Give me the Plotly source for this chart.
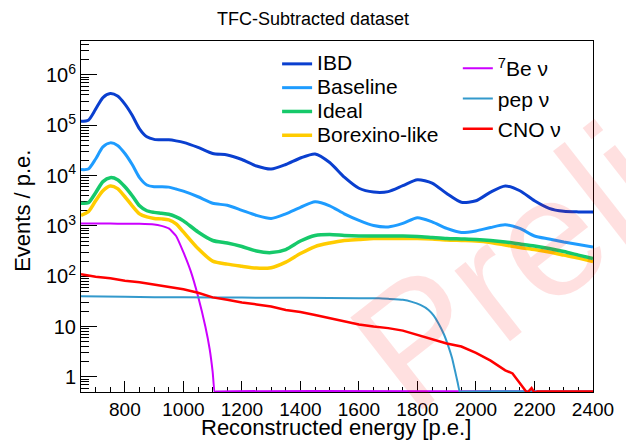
import plotly.graph_objects as go

# ---------------- data ----------------
energy = [650, 675, 700, 725, 750, 775, 800, 825, 850, 875, 900, 925, 950, 975, 1000,
          1050, 1100, 1150, 1200, 1250, 1300, 1350, 1400, 1450, 1500, 1550, 1600, 1650,
          1700, 1750, 1800, 1850, 1900, 1950, 2000, 2050, 2100, 2150, 2200, 2250, 2300,
          2350, 2400]

ibd = [1.20e5, 1.26e5, 2.09e5, 3.55e5, 4.27e5, 3.80e5, 2.63e5, 1.58e5, 8.5e4, 5.9e4,
       5.25e4, 5.13e4, 5.13e4, 4.9e4, 4.57e4,
       3.63e4, 2.75e4, 2.57e4, 2.09e4, 1.55e4, 1.35e4, 1.66e4, 2.24e4, 2.69e4, 1.82e4,
       9.3e3, 5.6e3, 4.7e3, 4.8e3, 6.3e3, 8.3e3, 7.1e3, 4.4e3, 2.95e3, 3.16e3, 4.7e3,
       6.2e3, 5.0e3, 3.16e3, 2.24e3, 1.95e3, 1.9e3, 1.9e3]

baseline = [1.32e4, 1.35e4, 2.14e4, 3.72e4, 4.47e4, 3.98e4, 2.75e4, 1.66e4, 9.1e3, 6.5e3,
            6.0e3, 6.0e3, 5.9e3, 5.4e3, 4.9e3,
            3.8e3, 2.82e3, 2.57e3, 2.04e3, 1.62e3, 1.41e3, 1.74e3, 2.34e3, 3.02e3, 2.51e3,
            1.74e3, 1.29e3, 1.02e3, 955, 1.12e3, 1.45e3, 1.2e3, 890, 740, 795, 930,
            1.05e3, 890, 630, 550, 480, 427, 380]

ideal = [2.82e3, 2.88e3, 4.57e3, 7.6e3, 9.1e3, 8.3e3, 6.0e3, 3.98e3, 2.51e3, 2.0e3,
         1.86e3, 1.78e3, 1.70e3, 1.51e3, 1.26e3,
         759, 513, 457, 389, 316, 295, 339, 501, 646, 676, 646, 631, 631, 631, 631,
         617, 589, 562, 550, 537, 513, 479, 437, 398, 355, 309, 263, 224]

borexino = [1.62e3, 1.91e3, 3.16e3, 5.0e3, 6.2e3, 5.5e3, 3.8e3, 2.51e3, 1.74e3, 1.51e3,
            1.41e3, 1.38e3, 1.32e3, 1.10e3, 759,
            355, 200, 174, 158, 145, 148, 191, 282, 389, 457, 513, 537, 562, 562, 562,
            562, 550, 525, 513, 501, 468, 417, 372, 339, 302, 263, 229, 195]

be7_energy = [650, 700, 750, 800, 850, 900, 925, 950, 975, 1000, 1025, 1050, 1075, 1090,
              1100, 1107, 1112, 2400]
be7 = [1.12e3, 1.12e3, 1.12e3, 1.10e3, 1.10e3, 1.07e3, 1.0e3, 890, 630, 300, 126, 40, 10,
       3.5, 1.26, 0.5, 0, 0]

pep_energy = [650, 800, 1000, 1200, 1400, 1600, 1668, 1700, 1750, 1781, 1810, 1838, 1855,
              1872, 1890, 1906, 1918, 1928, 1937, 1945, 1950, 2400]
pep = [39.8, 38.9, 38.0, 37.6, 37.2, 36.3, 36.3, 35.5, 33.9, 30.9, 26.9, 21.4, 16.6, 11.5,
       7.1, 4.0, 2.4, 1.35, 0.79, 0.5, 0, 0]

cno_energy = [650, 700, 750, 800, 850, 900, 950, 1000, 1050, 1100, 1150, 1200, 1250, 1300,
              1350, 1400, 1450, 1500, 1550, 1600, 1650, 1700, 1750, 1800, 1850, 1900, 1950,
              2000, 2050, 2100, 2125, 2150, 2175, 2190, 2200, 2210, 2400]
cno = [110, 98, 91, 81, 76, 68, 62, 55, 47, 38, 34, 30, 27.5, 25, 21.4, 19.5, 17, 14.8,
       12.9, 11, 10, 9.3, 8.3, 6.8, 5.6, 4.6, 4.0, 3.0, 2.1, 1.35, 1.17, 0.76, 0.48, 0.6,
       0.48, 0, 0]

x_ticks = [800, 1000, 1200, 1400, 1600, 1800, 2000, 2200, 2400]
y_ticks = [1, 10, 100, 1000, 1e4, 1e5, 1e6]
y_ticktext = ["1", "10", "10<sup>2</sup>", "10<sup>3</sup>", "10<sup>4</sup>",
              "10<sup>5</sup>", "10<sup>6</sup>"]

FLOOR = 0.51  # empty bins are drawn on the lower frame edge (log scale)


def floor(vals):
    return [v if v > 0 else FLOOR for v in vals]


FONT = "Liberation Sans, Arial, Helvetica, sans-serif"

fig = go.Figure()

main = [
    ("IBD", ibd, "#0a3fcf", 3, 1),
    ("Baseline", baseline, "#1e9cff", 3, 2),
    ("Borexino-like", borexino, "#ffcc00", 3.5, 4),
    ("Ideal", ideal, "#16c96a", 3.5, 3),
]
for name, vals, col, w, rank in main:
    fig.add_trace(go.Scatter(
        x=energy, y=vals, mode="lines", legend="legend", legendrank=rank,
        name='<span style="font-size:21px">%s</span>' % name,
        line=dict(color=col, width=w, shape="spline", smoothing=0.7),
    ))

nu = [
    ("<sup>7</sup>Be \u03bd", be7_energy, be7, "#cc00ff", 2, "spline"),
    ("pep \u03bd", pep_energy, pep, "#3399cc", 2, "spline"),
    ("CNO \u03bd", cno_energy, cno, "#ff0000", 2.5, "linear"),
]
for name, xs, vals, col, w, shp in nu:
    fig.add_trace(go.Scatter(
        x=xs, y=floor(vals), mode="lines", legend="legend2", name=name,
        line=dict(color=col, width=w, shape=shp, smoothing=0.5),
    ))

fig.update_layout(
    width=626, height=440,
    margin=dict(l=81, r=31, t=41, b=48),
    paper_bgcolor="white", plot_bgcolor="white",
    font=dict(family=FONT, color="black", size=20),
    title=dict(text="TFC-Subtracted dataset", x=0.5, xanchor="center",
               y=0.958, yanchor="middle", font=dict(size=18, family=FONT)),
    showlegend=True,
    legend=dict(x=0.383, y=0.983, xanchor="left", yanchor="top",
                bgcolor="rgba(0,0,0,0)", font=dict(size=16, family=FONT),
                tracegroupgap=0),
    legend2=dict(x=0.736, y=0.98, xanchor="left", yanchor="top",
                 bgcolor="rgba(0,0,0,0)", font=dict(size=21, family=FONT)),
)

fig.update_xaxes(
    range=[650, 2400], tickmode="array", tickvals=x_ticks,
    ticks="inside", ticklen=11, tickwidth=1, tickcolor="black",
    showline=True, linecolor="black", linewidth=1, mirror=True,
    showgrid=False, zeroline=False, layer="below traces",
    tickfont=dict(size=19, family=FONT),
    minor=dict(ticks="inside", ticklen=5, tickcolor="black", dtick=50, tick0=650,
               showgrid=False),
)
fig.update_yaxes(
    type="log", range=[-0.301, 6.675], tickmode="array", tickvals=y_ticks,
    ticktext=y_ticktext,
    ticks="inside", ticklen=16, tickwidth=1, tickcolor="black",
    showline=True, linecolor="black", linewidth=1, mirror=True,
    showgrid=False, zeroline=False, layer="below traces",
    tickfont=dict(size=20, family=FONT),
    minor=dict(ticks="inside", ticklen=8, tickcolor="black", dtick="D1",
               showgrid=False),
)

# axis titles
fig.add_annotation(text="Reconstructed energy [p.e.]", xref="paper", yref="paper",
                   x=0.498, y=-0.1, xanchor="center", yanchor="middle",
                   showarrow=False, font=dict(size=22, family=FONT))
fig.add_annotation(text="Events / p.e.", xref="paper", yref="paper",
                   x=-0.114, y=0.515, xanchor="center", yanchor="middle",
                   textangle=-90, showarrow=False, font=dict(size=22, family=FONT))

# watermark
fig.add_annotation(text="Preliminary", xref="paper", yref="paper",
                   x=1.2287, y=0.803, xanchor="center", yanchor="middle",
                   textangle=-38, showarrow=False,
                   font=dict(size=170, family=FONT, color="rgba(255,0,0,0.12)"))

fig.write_html("out.html")
